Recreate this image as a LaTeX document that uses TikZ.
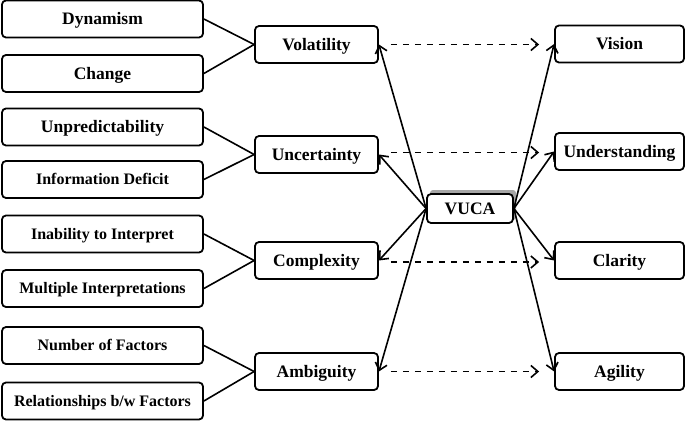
\documentclass[tikz,border=0pt]{standalone}
\usepackage{fontspec}
\setmainfont{Liberation Serif}
\usetikzlibrary{arrows.meta,calc}
\begin{document}
\begin{tikzpicture}[x=1pt,y=1pt,
  box/.style={draw=black,line width=1.8pt,rounded corners=4pt,fill=white,
    font=\bfseries\fontsize{17.5}{20}\selectfont,inner sep=0pt,
    text height=11.6pt,text depth=0pt},
  lbox/.style={box,minimum width=201pt,minimum height=37pt},
  mbox/.style={box,minimum width=123pt,minimum height=37pt},
  rbox/.style={box,minimum width=129pt,minimum height=37pt},
  small/.style={font=\bfseries\fontsize{16}{18}\selectfont,text height=10.6pt},
  conn/.style={line width=1.6pt},
  arr/.style={line width=1.6pt,-{Straight Barb[length=7pt,width=12pt,line width=1.6pt]}},
  darr/.style={arr,dash pattern=on 6.5pt off 5.5pt,shorten <=12pt,shorten >=15pt}
]
\useasboundingbox (0,0) rectangle (685,421);
% left boxes
\node[lbox] (dyn) at (102.5,402) {Dynamism};
\node[lbox] (chg) at (102.5,347.5) {Change};
\node[lbox] (unp) at (102.5,294) {Unpredictability};
\node[lbox,small] (inf) at (102.5,241.5) {Information Deficit};
\node[lbox,small] (ina) at (102.5,187) {Inability to Interpret};
\node[lbox,small] (mul) at (102.5,132.5) {Multiple Interpretations};
\node[lbox,small] (num) at (102.5,75.5) {Number of Factors};
\node[lbox,small] (rel) at (102.5,20) {Relationships b/w Factors};
% middle boxes
\node[mbox] (vol) at (316.5,376.5) {Volatility};
\node[mbox] (unc) at (316.5,266.5) {Uncertainty};
\node[mbox] (cpx) at (316.5,160.5) {Complexity};
\node[mbox] (amb) at (316.5,49.5) {Ambiguity};
% right boxes
\node[rbox] (vis) at (619.5,377) {Vision};
\node[rbox] (und) at (619.5,269.5) {Understanding};
\node[rbox] (cla) at (619.5,160.5) {Clarity};
\node[rbox] (agi) at (619.5,49.5) {Agility};
% VUCA with shadow
\fill[gray!70,rounded corners=3pt] (430,201) rectangle (516,231);
\node[box,minimum width=86pt,minimum height=29pt] (vuca) at (470,212.5) {VUCA};
% left connectors
\draw[conn] (dyn.east) -- (vol.west);
\draw[conn] (chg.east) -- (vol.west);
\draw[conn] (unp.east) -- (unc.west);
\draw[conn] (inf.east) -- (unc.west);
\draw[conn] (ina.east) -- (cpx.west);
\draw[conn] (mul.east) -- (cpx.west);
\draw[conn] (num.east) -- (amb.west);
\draw[conn] (rel.east) -- (amb.west);
% VUCA arrows
\draw[arr] (vuca.west) -- (vol.east);
\draw[arr] (vuca.west) -- (unc.east);
\draw[arr] (vuca.west) -- (cpx.east);
\draw[arr] (vuca.west) -- (amb.east);
\draw[arr] (vuca.east) -- (vis.west);
\draw[arr] (vuca.east) -- (und.west);
\draw[arr] (vuca.east) -- (cla.west);
\draw[arr] (vuca.east) -- (agi.west);
% dashed arrows
\draw[darr] (vol.east) -- (vol.east -| vis.west);
\draw[darr] ([yshift=2pt]unc.east) -- ([yshift=2pt]unc.east -| und.west);
\draw[darr] ([yshift=-1.5pt]cpx.east) -- ([yshift=-1.5pt]cpx.east -| cla.west);
\draw[darr] (amb.east) -- (amb.east -| agi.west);
\end{tikzpicture}
\end{document}
